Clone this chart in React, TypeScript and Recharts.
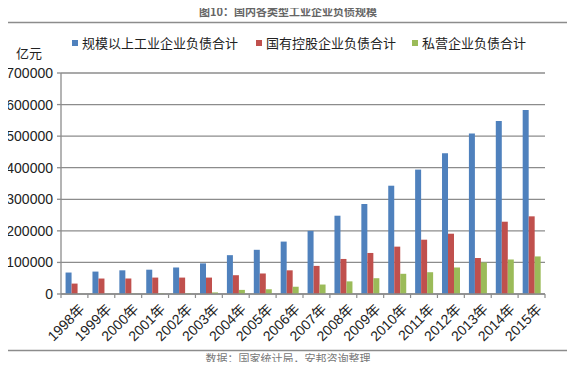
import { Bar, BarChart, CartesianGrid, XAxis, YAxis } from 'recharts'

const YEARS = ['1998年', '1999年', '2000年', '2001年', '2002年', '2003年', '2004年', '2005年', '2006年', '2007年', '2008年', '2009年', '2010年', '2011年', '2012年', '2013年', '2014年', '2015年']
// 亿元
const TOTAL = [68000, 71000, 75000, 77000, 84000, 97000, 123000, 140000, 166000, 200000, 248000, 285000, 343000, 394000, 446000, 508000, 548000, 583000]
const STATE_OWNED = [33000, 49000, 49000, 52000, 52000, 52000, 59500, 65000, 75000, 89000, 111000, 130000, 150000, 172000, 191000, 114000, 229000, 246000]
const PRIVATE = [300, 600, 1000, 2000, 2500, 5000, 13000, 15000, 23000, 30000, 40000, 50000, 64000, 69000, 84000, 100000, 109000, 119000]
const Y_TICKS = [0, 100000, 200000, 300000, 400000, 500000, 600000, 700000]

const SERIES = [
  { key: 'total', name: '规模以上工业企业负债合计', color: '#4F81BD' },
  { key: 'state', name: '国有控股企业负债合计', color: '#C0504D' },
  { key: 'private', name: '私营企业负债合计', color: '#9BBB59' },
]

const rows = YEARS.map((year, i) => ({ year, total: TOTAL[i], state: STATE_OWNED[i], private: PRIVATE[i] }))

const PLOT_BOTTOM = 294
const HALF_BAND = (545 - 61) / YEARS.length / 2
const CJK = '"Noto Sans CJK SC", sans-serif'
const LATIN = '"Liberation Sans", Arial, "Noto Sans CJK SC", sans-serif'

function YearTick(props: any) {
  const { x, payload, index } = props
  const ax = x + 4
  const ay = PLOT_BOTTOM + 9
  return (
    <g>
      <line x1={x - HALF_BAND} x2={x - HALF_BAND} y1={PLOT_BOTTOM} y2={PLOT_BOTTOM + 4} stroke="#8c8c8c" strokeWidth={1.2} />
      {index === YEARS.length - 1 && (
        <line x1={x + HALF_BAND} x2={x + HALF_BAND} y1={PLOT_BOTTOM} y2={PLOT_BOTTOM + 4} stroke="#8c8c8c" strokeWidth={1.2} />
      )}
      <text x={ax} y={ay} dy={10} transform={`rotate(-45 ${ax} ${ay})`} textAnchor="end" fontSize={14} fill="#222" fontFamily={LATIN}>
        {payload.value}
      </text>
    </g>
  )
}

export default function App() {
  return (
    <div style={{ margin: -8, position: 'relative', width: 575, height: 370, background: '#fff', overflow: 'hidden' }}>
      <svg width={575} height={370} style={{ position: 'absolute', left: 0, top: 0 }}>
        <text x={288} y={16} textAnchor="middle" fontFamily={CJK} fontSize={11} fontWeight="bold" fill="#666">
          图10：国内各类型工业企业负债规模
        </text>
        <rect x={3.5} y={22.5} width={568} height={328} fill="none" stroke="#8c8c8c" strokeWidth={1.5} />
        <text x={16} y={58} fontFamily={CJK} fontSize={13} fill="#222">亿元</text>
        <text x={288} y={363} textAnchor="middle" fontFamily={CJK} fontSize={11} fill="#777">
          数据：国家统计局，安邦咨询整理
        </text>
      </svg>
      {SERIES.map((s, i) => (
        <div key={s.key} style={{ position: 'absolute', left: [72, 256, 412][i], top: 34, lineHeight: '18px', display: 'flex', alignItems: 'center', fontFamily: CJK, fontSize: 13, color: '#222', whiteSpace: 'nowrap' }}>
          <span style={{ display: 'inline-block', width: 6, height: 6, background: s.color, marginRight: 4 }} />
          {s.name}
        </div>
      ))}
      <div style={{ position: 'absolute', left: 0, top: 0 }}>
        <BarChart width={575} height={370} data={rows} margin={{ top: 73, right: 30, bottom: 0, left: 0 }} barCategoryGap="17%" barGap={0}>
          <CartesianGrid vertical={false} stroke="#8c8c8c" strokeWidth={1.3} />
          <XAxis dataKey="year" interval={0} tickLine={false} axisLine={{ stroke: '#8c8c8c', strokeWidth: 1.3 }} tick={<YearTick />} height={370 - PLOT_BOTTOM} />
          <YAxis
            width={61}
            domain={[0, 700000]}
            ticks={Y_TICKS}
            interval={0}
            tickSize={4}
            tickMargin={4}
            axisLine={{ stroke: '#8c8c8c', strokeWidth: 1.3 }}
            tickLine={{ stroke: '#8c8c8c', strokeWidth: 1.3 }}
            tick={{ fontSize: 14, fill: '#222', fontFamily: LATIN }}
          />
          {SERIES.map((s) => (
            <Bar key={s.key} dataKey={s.key} name={s.name} fill={s.color} isAnimationActive={false} />
          ))}
        </BarChart>
      </div>
    </div>
  )
}
